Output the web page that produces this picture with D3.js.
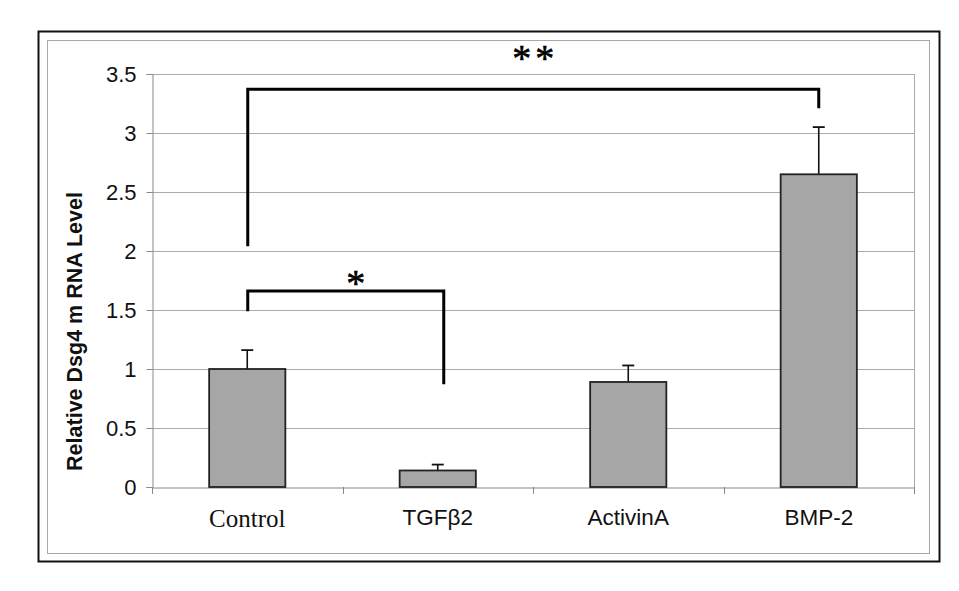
<!DOCTYPE html>
<html>
<head>
<meta charset="utf-8">
<script src="https://cdn.jsdelivr.net/npm/d3@7/dist/d3.min.js"></script>
<style>
  html, body { margin: 0; padding: 0; background: #fff; }
  svg { display: block; }
</style>
</head>
<body>
<svg id="chart" width="959" height="591"></svg>
<script>
// ---- data ----
const categories = ["Control", "TGFβ2", "ActivinA", "BMP-2"];
const values = [1.0, 0.14, 0.89, 2.65];
const errors = [0.16, 0.05, 0.14, 0.40];
const yTicks = [0, 0.5, 1, 1.5, 2, 2.5, 3, 3.5];
const yTickLabels = ["0", "0.5", "1", "1.5", "2", "2.5", "3", "3.5"];
const brackets = [
  { from: 0, to: 3, leftEnd: 2.04, top: 3.37, rightEnd: 3.21, label: "**" },
  { from: 0, to: 1, leftEnd: 1.49, top: 1.66, rightEnd: 0.87, label: "*" }
];
const yTitle = "Relative Dsg4 m RNA Level";

// ---- layout ----
const svg = d3.select("#chart");
const plot = { left: 152, right: 914, top: 74, bottom: 487 };

const x = d3.scaleBand().domain(categories).range([plot.left, plot.right]).padding(0);
const y = d3.scaleLinear().domain([0, 3.5]).range([plot.bottom, plot.top]);
const barW = x.bandwidth() * 0.40;
const cx = c => x(c) + x.bandwidth() / 2;

// frames
svg.append("rect").attr("x", 38.5).attr("y", 31.5).attr("width", 901).attr("height", 530)
  .attr("fill", "none").attr("stroke", "#111").attr("stroke-width", 2);
svg.append("rect").attr("x", 47.5).attr("y", 40.5).attr("width", 882).attr("height", 513)
  .attr("fill", "none").attr("stroke", "#a8a8a8").attr("stroke-width", 1);

// gridlines
svg.append("g").selectAll("line").data(yTicks.filter(d => d > 0)).join("line")
  .attr("x1", plot.left).attr("x2", plot.right)
  .attr("y1", d => Math.round(y(d)) + 0.5).attr("y2", d => Math.round(y(d)) + 0.5)
  .attr("stroke", "#aaaaaa").attr("stroke-width", 1);
// right plot border
svg.append("line").attr("x1", plot.right + 0.5).attr("x2", plot.right + 0.5)
  .attr("y1", plot.top).attr("y2", plot.bottom).attr("stroke", "#aaaaaa");

// y axis
const yAxis = d3.axisLeft(y).tickValues(yTicks).tickFormat((d, i) => yTickLabels[i])
  .tickSize(6).tickPadding(10);
const gy = svg.append("g").attr("transform", `translate(${plot.left + 0.5},0)`).call(yAxis);
gy.select(".domain").attr("stroke", "#888");
gy.selectAll(".tick line").attr("stroke", "#888");
gy.selectAll(".tick text").attr("font-family", "Liberation Sans, Arial, sans-serif")
  .attr("font-size", 22).attr("fill", "#111");

// x axis
const xAxis = d3.axisBottom(x).tickSize(0).tickPadding(22);
const gx = svg.append("g").attr("transform", `translate(0,${plot.bottom + 0.5})`).call(xAxis);
gx.select(".domain").attr("stroke", "#888");
gx.selectAll(".tick text")
  .attr("font-family", (d, i) => i === 0 ? "Liberation Serif, Times New Roman, serif" : "Liberation Sans, Arial, sans-serif")
  .attr("font-size", (d, i) => i === 0 ? 25 : 22.5).attr("fill", "#111");
// category boundary ticks
const bounds = categories.map(c => x(c)).concat([plot.right]);
svg.append("g").selectAll("line").data(bounds).join("line")
  .attr("x1", d => Math.round(d) + 0.5).attr("x2", d => Math.round(d) + 0.5)
  .attr("y1", plot.bottom).attr("y2", plot.bottom + 7).attr("stroke", "#888");

// error bars
const eb = svg.append("g");
categories.forEach((c, i) => {
  const xc = cx(c);
  eb.append("line").attr("x1", xc).attr("x2", xc)
    .attr("y1", y(values[i])).attr("y2", y(values[i] + errors[i]))
    .attr("stroke", "#111").attr("stroke-width", 1.6);
  eb.append("line").attr("x1", xc - 6).attr("x2", xc + 6)
    .attr("y1", y(values[i] + errors[i])).attr("y2", y(values[i] + errors[i]))
    .attr("stroke", "#111").attr("stroke-width", 1.8);
});

// bars
svg.append("g").selectAll("rect").data(categories).join("rect")
  .attr("x", c => cx(c) - barW / 2)
  .attr("y", (c, i) => y(values[i]))
  .attr("width", barW)
  .attr("height", (c, i) => y(0) - y(values[i]))
  .attr("fill", "#a6a6a6").attr("stroke", "#222").attr("stroke-width", 1.8);

// significance brackets
const bg = svg.append("g");
brackets.forEach((b, k) => {
  const x1 = cx(categories[b.from]) + 0.5;
  const x2 = cx(categories[b.to]) + (k === 1 ? 6 : 0);
  bg.append("path")
    .attr("d", `M${x1},${y(b.leftEnd)} L${x1},${y(b.top)} L${x2},${y(b.top)} L${x2},${y(b.rightEnd)}`)
    .attr("fill", "none").attr("stroke", "#000").attr("stroke-width", 3)
    .attr("stroke-linejoin", "miter");
  bg.append("text")
    .attr("x", (x1 + x2) / 2 + (k === 1 ? 10 : 2))
    .attr("y", k === 0 ? 71 : y(b.top) + 5)
    .attr("text-anchor", "middle")
    .attr("font-family", "Liberation Serif, Times New Roman, serif")
    .attr("font-size", 38)
    .attr("letter-spacing", k === 0 ? 4 : 0)
    .attr("fill", "#000")
    .attr("stroke", "#000").attr("stroke-width", 0.6)
    .text(b.label);
});

// y title
svg.append("text")
  .attr("transform", `translate(82,${(190 + 473) / 2}) rotate(-90)`)
  .attr("text-anchor", "middle")
  .attr("font-family", "Liberation Sans, Arial, sans-serif")
  .attr("font-weight", "bold")
  .attr("font-size", 21.5)
  .attr("fill", "#111")
  .text(yTitle);
</script>
</body>
</html>
